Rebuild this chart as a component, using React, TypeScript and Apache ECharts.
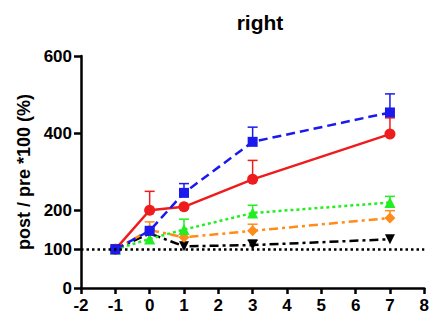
import React, { useEffect, useRef } from "react";
import * as echarts from "echarts";

const xValues = [-1, 0, 1, 3, 7];
const redValues = [100, 201, 210, 281, 398];
const redUpper = [null, 250, null, 330, 440];
const blueValues = [100, 148, 246, 378, 454];
const blueUpper = [null, null, 270, 416, 502];
const greenValues = [100, 127, 151, 194, 221];
const greenUpper = [null, null, 178, 214, 237];
const orangeValues = [100, 150, 131, 148, 181];
const orangeUpper = [null, 171, null, 165, 200];
const blackValues = [100, 141, 108, 111, 126];
const blackUpper = [null, null, null, 124, null];
const yTicks = [0, 100, 200, 400, 600];
const xMin = -2;

const FONT = "Liberation Sans, Arial, sans-serif";

function pairs(vals: number[]) {
  return xValues.map((x, i) => [x, vals[i]]);
}
function errData(vals: number[], upper: (number | null)[]) {
  const out: number[][] = [];
  xValues.forEach((x, i) => {
    if (upper[i] != null) out.push([x, vals[i], upper[i] as number]);
  });
  return out;
}

function errSeries(vals: number[], upper: (number | null)[], color: string) {
  return {
    type: "custom",
    z: 1,
    data: errData(vals, upper),
    renderItem: (params: any, api: any) => {
      const p0 = api.coord([api.value(0), api.value(1)]);
      const p1 = api.coord([api.value(0), api.value(2)]);
      return {
        type: "group",
        children: [
          { type: "line", shape: { x1: p0[0], y1: p0[1], x2: p1[0], y2: p1[1] }, style: { stroke: color, lineWidth: 1.5 } },
          { type: "line", shape: { x1: p1[0] - 5, y1: p1[1], x2: p1[0] + 5, y2: p1[1] }, style: { stroke: color, lineWidth: 1.5 } },
        ],
      };
    },
  };
}

function lineSeries(vals: number[], color: string, dash: any, symbol: string, size: number, rotate = 0, extra: any = {}) {
  return {
    type: "line",
    z: 3,
    data: pairs(vals),
    symbol,
    symbolSize: size,
    symbolRotate: rotate,
    itemStyle: { color },
    lineStyle: { color, width: 2.5, type: dash },
    ...extra,
  };
}

export default function App() {
  const ref = useRef<HTMLDivElement>(null);
  useEffect(() => {
    const chart = echarts.init(ref.current!, null, { renderer: "svg" });
    chart.setOption({
      animation: false,
      title: {
        text: "right",
        left: 255,
        top: 7,
        textAlign: "center",
        textStyle: { fontFamily: FONT, fontWeight: "bold", fontSize: 21, color: "#000" },
      },
      grid: { left: 81, right: 3, top: 56, bottom: 34, containLabel: false },
      xAxis: {
        type: "value",
        min: xMin,
        max: 8,
        interval: 1,
        splitLine: { show: false },
        axisLine: { onZero: false, lineStyle: { color: "#000", width: 2.5 } },
        axisTick: { length: 6, lineStyle: { color: "#000", width: 2.5 } },
        axisLabel: { color: "#000", fontFamily: FONT, fontWeight: "bold", fontSize: 17, margin: 9 },
      },
      yAxis: {
        type: "value",
        min: 0,
        max: 600,
        splitLine: { show: false },
        axisLine: { show: true, onZero: false, lineStyle: { color: "#000", width: 2.5 } },
        axisTick: { show: true, length: 7, customValues: yTicks, lineStyle: { color: "#000", width: 2.5 } },
        axisLabel: { customValues: yTicks, color: "#000", fontFamily: FONT, fontWeight: "bold", fontSize: 17, margin: 9 },
        name: "post / pre *100 (%)",
        nameLocation: "middle",
        nameGap: 44,
        nameTextStyle: { color: "#000", fontFamily: FONT, fontWeight: "bold", fontSize: 18 },
      },
      series: [
        errSeries(redValues, redUpper, "#ee1c1c"),
        errSeries(blueValues, blueUpper, "#1a1aee"),
        errSeries(greenValues, greenUpper, "#22ee22"),
        errSeries(orangeValues, orangeUpper, "#ff8c1a"),
        errSeries(blackValues, blackUpper, "#000000"),
        lineSeries(blackValues, "#000000", [9, 4, 3, 4], "triangle", 10, 180, {
          markLine: {
            silent: true,
            symbol: "none",
            label: { show: false },
            lineStyle: { color: "#000", width: 2.5, type: [2.5, 3] },
            data: [{ yAxis: 100 }],
          },
        }),
        lineSeries(orangeValues, "#ff8c1a", [9, 4, 3, 4], "diamond", 11),
        lineSeries(greenValues, "#22ee22", [3, 3], "triangle", 11),
        lineSeries(redValues, "#ee1c1c", "solid", "circle", 11),
        lineSeries(blueValues, "#1a1aee", [9, 5], "rect", 10),
      ],
    });
    return () => chart.dispose();
  }, []);
  return <div ref={ref} style={{ position: "fixed", left: 0, top: 0, width: 432, height: 322, background: "#fff" }} />;
}
